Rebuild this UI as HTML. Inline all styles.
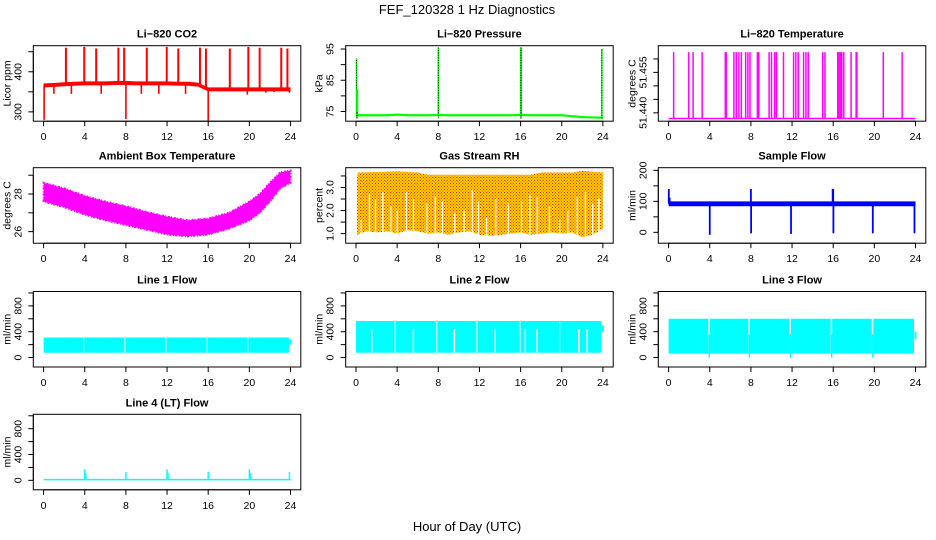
<!DOCTYPE html>
<html><head><meta charset="utf-8">
<style>
html,body{margin:0;padding:0;background:#fff;}
svg{display:block;font-family:"Liberation Sans",sans-serif;}
</style></head>
<body>
<svg id="chart" width="936" height="540" viewBox="0 0 936 540" xmlns="http://www.w3.org/2000/svg">
<defs>
<pattern id="rhpat" width="3" height="3" patternUnits="userSpaceOnUse">
<rect width="3" height="3" fill="#FFD700"/>
<rect x="0" y="0" width="1" height="1" fill="#FF2000"/>
<rect x="1.5" y="1.5" width="1" height="1" fill="#FF2000"/>
</pattern>
</defs>
<text x="467" y="14" font-size="13" text-anchor="middle">FEF_120328  1 Hz Diagnostics</text>
<text x="467" y="531" font-size="13" text-anchor="middle">Hour of Day (UTC)</text>
</svg>
<script>
// ---------- DATA ----------
const hours = [0,1,2,3,4,5,6,7,8,9,10,11,12,13,14,15,16,17,18,19,20,21,22,23,24];
const xTicks = [0,4,8,12,16,20,24];

// CO2
const co2Base = [366,367,369,370,371,371,371,372,372,371,371,371,371,370,370,368,356,356,356,356,356,356,356,356,356];
const co2SpikeT = [2.17,3.95,5.11,7.27,7.83,10.03,11.97,13.09,15.2,15.78,18.1,19.9,21.0,23.1,23.7];
const co2SpikeV = [460,462,458,460,460,460,462,458,460,458,458,462,460,460,458];
const co2DipT = [0.05,8.0,16.0,2.7,5.6,9.5,11.2,13.8,19.8,21.6,22.4,1.0,23.9];
const co2DipV = [280,282,278,345,345,345,345,345,343,348,350,345,348];

// Pressure
const presBase = [73.8,73.8,73.8,73.8,74.0,73.8,73.8,73.8,73.9,73.8,73.8,73.8,73.8,73.8,73.8,73.8,73.9,73.8,73.8,73.8,73.8,73.5,73.2,73.1,73.0];
const presSpikeT = [0.05,0.12,8.0,16.0,16.05,23.9];
const presSpikeV = [92,82,95.5,95.5,95.5,95];

// Li-820 temperature
const tempBase = 51.4379;
const tempHigh = 51.4625;
const tempSpikeT = [0.49,1.95,2.38,3.26,5.51,5.6,6.35,6.58,6.84,7.07,7.49,7.71,7.91,8.63,8.76,9.77,10.0,10.32,10.49,11.17,12.15,12.37,12.6,13.12,13.35,13.57,14.98,15.2,16.44,16.57,16.7,16.83,17.03,17.74,18.23,18.3,20.87,22.7];

// Ambient box temperature
const ambHourT = [0,2,4,6,8,10,12,14,16,18,20,21,22,23,24];
const ambHi = [28.6,28.3,27.9,27.6,27.35,27.05,26.8,26.6,26.7,27.0,27.6,28.0,28.6,29.15,29.25];
const ambLo = [27.6,27.3,26.9,26.6,26.35,26.1,25.85,25.75,25.85,26.15,26.6,27.0,27.6,28.3,28.6];

// Gas stream RH
const rhTopT = [0.1,0.2,0.3,4.0,6.0,7.0,12.0,17.0,18.0,21.0,22.0,24.0];
const rhTopV = [3.45,3.65,3.65,3.7,3.65,3.55,3.55,3.55,3.65,3.65,3.72,3.65];
const rhBotT = [0.1,1,2,3,4,5,6,7,8,9,10,11,12,13,14,15,16,17,18,19,20,21,22,23,24];
const rhBotV = [0.95,1.1,1.05,1.1,1.0,1.15,1.1,1.0,1.05,0.95,1.05,1.1,0.95,0.9,0.95,1.0,1.05,0.95,1.0,1.05,1.0,1.05,0.85,0.95,1.2];
const rhGapT = [0.5,1.3,1.9,2.6,3.4,4.0,4.9,5.6,6.9,7.7,8.4,9.6,10.5,11.3,11.9,12.7,13.6,14.8,16.1,16.9,17.6,18.8,19.8,20.6,21.5,22.3,23.0,23.6];
const rhGapV = [1.6,2.7,2.5,2.8,2.2,2.0,2.8,2.5,2.3,2.6,2.4,1.9,2.0,2.9,2.4,1.7,2.5,2.3,2.4,2.7,2.6,2.2,1.6,2.0,2.6,2.8,2.3,2.5];

// Sample flow
const sfBandLo = 84, sfBandHi = 100;
const sfSpikeT = [0.02,8.0,16.0,15.95,4.0,8.02,11.9,16.02,19.85,23.9,0.1];
const sfSpikeV = [140,140,140,140,-8,-3,-5,-3,-3,-3,112];

// Line flows
const l1Seg = [[0,3.85],[3.95,7.85],[7.95,11.85],[11.95,15.85],[15.95,19.8],[19.9,23.85]];
const l1Lo = 75, l1Hi = 310;
const l2Seg = [[0,3.75],[3.85,7.8],[7.9,11.7],[11.8,15.9],[16.0,19.75],[19.85,23.85]];
const l2Lo = 75, l2Hi = 565;
const l2GapT = [1.53,5.58,9.57,13.53,16.46,17.6,21.65,22.46];
const l3Seg = [[0,3.85],[4.0,7.75],[7.9,11.75],[11.9,15.75],[15.9,19.75],[19.9,23.85]];
const l3Lo = 60, l3Hi = 600;
const l4SpikeT = [4.0,4.1,8.0,12.0,12.1,16.0,20.0,20.1,23.9];
const l4SpikeV = [170,100,130,170,110,130,170,110,130];

// ---------- LAYOUT ----------
const svg = document.getElementById('chart');
const NS = 'http://www.w3.org/2000/svg';
const colL = [33.3,345.7,658.3];
const rowT = [45.7,167.7,291.5,414.3];
const PW = 267.5, PH = 75.5;

function mk(tag, attrs, parent){
  const e = document.createElementNS(NS, tag);
  for (const k in attrs) e.setAttribute(k, attrs[k]);
  (parent||svg).appendChild(e);
  return e;
}

function panel(c, r, ylim, yTicks, yLabs, title, ylab, name){
  const g = mk('g', {});
  
  
  const L = colL[c], T = rowT[r];
  const X = t => L + 10.3 + t * (PW - 20.6) / 24;
  const Y = v => T + PH - (v - ylim[0]) / (ylim[1] - ylim[0]) * PH;
  const plot = mk('g', {}, g);
  
  
  const box = mk('rect', {x:L, y:T, width:PW, height:PH, fill:'none', stroke:'#000', 'stroke-width':1}, g);
  
  
  const tt = mk('text', {x:L+PW/2, y:T-8, 'font-size':11, 'font-weight':'bold', 'text-anchor':'middle'}, g);
  tt.textContent = title;
  
  
  const xa = mk('g', {}, g);
  
  
  mk('line', {x1:X(0), x2:X(24), y1:T+PH, y2:T+PH, stroke:'#000'}, xa);
  xTicks.forEach(t => {
    mk('line', {x1:X(t), x2:X(t), y1:T+PH, y2:T+PH+5, stroke:'#000'}, xa);
    const lb = mk('text', {x:X(t), y:T+PH+19, 'font-size':10.5, 'text-anchor':'middle'}, xa);
    lb.textContent = String(t);
    
    
  });
  const ya = mk('g', {}, g);
  
  
  mk('line', {x1:L, x2:L, y1:Y(yTicks[0]), y2:Y(yTicks[yTicks.length-1]), stroke:'#000'}, ya);
  yTicks.forEach(v => mk('line', {x1:L-5, x2:L, y1:Y(v), y2:Y(v), stroke:'#000'}, ya));
  yLabs.forEach(v => {
    const yy = Y(v[0]);
    const lb = mk('text', {x:L-12, y:yy, 'font-size':10.5, 'text-anchor':'middle', transform:'rotate(-90 '+(L-12)+' '+yy+')'}, ya);
    lb.textContent = v[1];
    
    
  });
  const yt = mk('text', {x:L-23, y:T+PH/2, 'font-size':10.5, 'text-anchor':'middle', transform:'rotate(-90 '+(L-23)+' '+(T+PH/2)+')'}, ya);
  yt.textContent = ylab;
  
  
  return {X, Y, g:plot};
}

function band(p, ts, hi, lo, fill, name){
  let d = '';
  ts.forEach((t,i) => d += (i?'L':'M') + p.X(t) + ',' + p.Y(hi[i]));
  for (let i = ts.length-1; i >= 0; i--) d += 'L' + p.X(ts[i]) + ',' + p.Y(lo[i]);
  const e = mk('path', {d:d+'Z', fill:fill, stroke:'none'}, p.g);
  
  
  return e;
}
function vline(p, t, v0, v1, col, w, name, dash){
  const a = {x1:p.X(t), x2:p.X(t), y1:p.Y(v0), y2:p.Y(v1), stroke:col, 'stroke-width':w};
  if (dash) a['stroke-dasharray'] = dash;
  const e = mk('line', a, p.g);
  
  
}

// ---------- PANELS ----------
(function(){
  const p = panel(0,0,[276.75,465],[300,350,400,450],[[300,'300'],[400,'400']],'Li−820 CO2','Licor ppm','co2');
  co2SpikeT.forEach((t,i) => vline(p, t, co2Base[Math.round(t)], co2SpikeV[i], '#FF0000', 2, 'co2-spike'));
  co2DipT.forEach((t,i) => vline(p, t, co2Base[Math.round(t)], co2DipV[i], '#FF0000', 1.6, 'co2-dip'));
  band(p, hours, co2Base.map(v=>v+5), co2Base.map(v=>v-5), '#FF0000', 'co2-series');
})();
(function(){
  const p = panel(1,0,[71.89,96.06],[75,80,85,90,95],[[75,'75'],[85,'85'],[95,'95']],'Li−820 Pressure','kPa','pressure');
  band(p, hours, presBase.map(v=>v+0.35), presBase.map(v=>v-0.35), '#00FF00', 'pressure-series');
  presSpikeT.forEach((t,i) => {
    vline(p, t, 73.2, presSpikeV[i], '#00FF00', 1.6, 'pressure-spike');
    vline(p, t, 72.8, presSpikeV[i], '#000', 0.8, 'pressure-spike-dotted', '1,1.5');
  });
  vline(p, 0.12, 75, 82, '#00FF00', 2, 'pressure-spike');
})();
(function(){
  const p = panel(2,0,[51.4369,51.4649],[51.440,51.445,51.450,51.455,51.460],[[51.440,'51.440'],[51.455,'51.455']],'Li−820 Temperature','degrees C','li820-temp');
  const e = mk('line', {x1:p.X(0), x2:p.X(24), y1:p.Y(tempBase), y2:p.Y(tempBase), stroke:'#FF00FF', 'stroke-width':1.5}, p.g);
  
  
  tempSpikeT.forEach(t => vline(p, t, tempBase, tempHigh, '#FF00FF', 1.5, 'temp-spike'));
})();
(function(){
  const p = panel(0,1,[25.384,29.4],[26,27,28,29],[[26,'26'],[28,'28']],'Ambient Box Temperature','degrees C','ambient');
  const e = band(p, ambHourT, ambHi, ambLo, '#FF00FF', 'ambient-series');
  e.setAttribute('stroke', '#FF00FF');
  e.setAttribute('stroke-width', '2');
  e.setAttribute('stroke-dasharray', '1,2,2,1');
})();
(function(){
  const p = panel(1,1,[0.584,3.858],[1.0,1.5,2.0,2.5,3.0,3.5],[[1,'1.0'],[2,'2.0'],[3,'3.0']],'Gas Stream RH','percent','rh');
  let d = '';
  rhTopT.forEach((t,i) => d += (i?'L':'M') + p.X(t) + ',' + p.Y(rhTopV[i]));
  for (let i = rhBotT.length-1; i >= 0; i--) d += 'L' + p.X(rhBotT[i]) + ',' + p.Y(rhBotV[i]);
  const e = mk('path', {d:d+'Z', fill:'url(#rhpat)'}, p.g);
  
  
  rhGapT.forEach((t,i) => vline(p, t, 0.8, rhGapV[i], '#FFFFFF', 1.2, 'rh-gap'));
})();
(function(){
  const p = panel(2,1,[-35,208.5],[0,50,100,150,200],[[0,'0'],[100,'100'],[200,'200']],'Sample Flow','ml/min','sample-flow');
  band(p, [0,24], [sfBandHi,sfBandHi], [sfBandLo,sfBandLo], '#0000FF', 'sample-flow-series');
  sfSpikeT.forEach((t,i) => vline(p, t, 92, sfSpikeV[i], '#0000FF', 1.8, 'sample-flow-spike'));
})();
const flowTicks = [0,200,400,600,800,1000];
const flowLabs = [[0,'0'],[400,'400'],[800,'800']];
function flowPanel(c, r, title, name, segs, lo, hi){
  const p = panel(c, r, [-146.4,1022.7], flowTicks, flowLabs, title, 'ml/min', name);
  segs.forEach(s => band(p, s, [hi,hi], [lo,lo], '#00FFFF', name + '-segment'));
  return p;
}
(function(){
  const p = flowPanel(0,2,'Line 1 Flow','line1-flow',l1Seg,l1Lo,l1Hi);
  vline(p, 24, 200, 280, '#00FFFF', 2, 'line1-tail');
})();
(function(){
  const p = flowPanel(1,2,'Line 2 Flow','line2-flow',l2Seg,l2Lo,l2Hi);
  l2GapT.forEach(t => vline(p, t, l2Lo, 440, '#FFFFFF', 1.5, 'line2-gap'));
  vline(p, 24, 400, 500, '#00FFFF', 2, 'line2-tail');
})();
(function(){
  const p = flowPanel(2,2,'Line 3 Flow','line3-flow',l3Seg,l3Lo,l3Hi);
  l3Seg.forEach((s,i) => { if (i) vline(p, s[0]-0.05, 0, 360, '#00FFFF', 1.5, 'line3-transition'); });
  vline(p, 24, 280, 400, '#00FFFF', 2, 'line3-tail');
})();
(function(){
  const p = panel(0,3,[-146.4,1022.7],flowTicks,flowLabs,'Line 4 (LT) Flow','ml/min','line4-flow');
  band(p, [0,24], [22,22], [0,0], '#00FFFF', 'line4-series');
  l4SpikeT.forEach((t,i) => vline(p, t, 10, l4SpikeV[i], '#00FFFF', 1.5, 'line4-spike'));
})();
</script>
</body></html>
